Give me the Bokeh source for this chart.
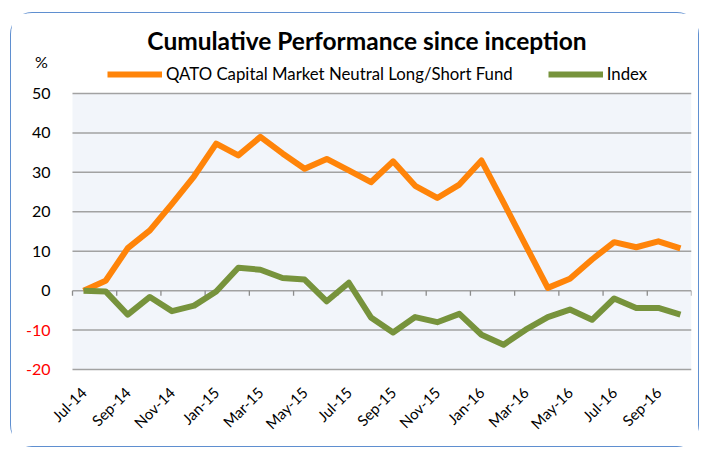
import math
from bokeh.plotting import figure
from bokeh.models import Range1d, FixedTicker, Legend, LegendItem
from bokeh.core.properties import value
from bokeh.embed import file_html
from bokeh.resources import INLINE

# ---------------- data ----------------
months = ["Jul-14", "Aug-14", "Sep-14", "Oct-14", "Nov-14", "Dec-14",
          "Jan-15", "Feb-15", "Mar-15", "Apr-15", "May-15", "Jun-15",
          "Jul-15", "Aug-15", "Sep-15", "Oct-15", "Nov-15", "Dec-15",
          "Jan-16", "Feb-16", "Mar-16", "Apr-16", "May-16", "Jun-16",
          "Jul-16", "Aug-16", "Sep-16", "Oct-16"]
fund = [0.0, 2.5, 10.8, 15.3, 22.0, 29.0, 37.3, 34.3, 39.0, 34.8, 30.9, 33.4,
        30.5, 27.5, 32.8, 26.6, 23.5, 26.9, 33.0, 22.3, 11.5, 0.7, 3.0, 7.9,
        12.3, 11.0, 12.5, 10.7]
index = [0.0, -0.2, -6.1, -1.6, -5.2, -3.8, -0.2, 5.8, 5.3, 3.2, 2.8, -2.7,
         2.0, -6.8, -10.6, -6.7, -8.0, -5.9, -11.2, -13.7, -9.9, -6.7, -4.8,
         -7.4, -2.0, -4.4, -4.4, -6.1]
y_ticks = [-20, -10, 0, 10, 20, 30, 40, 50]
x_tick_labels = months[::2]
series_names = ["QATO Capital Market Neutral Long/Short Fund", "Index"]
title_text = "Cumulative Performance since inception"
unit_text = "%"

# ---------------- layout (page pixels) ----------------
FONT = "Lato"
n = len(months)
W, H = 689, 435
CX, CY = 11, 13                      # canvas origin on the page
PL, PR, PT, PB = 72, 691, 93, 369    # plot area
FL, FT, FB = 21, 20, 381             # frame left / top / bottom
y_lo, y_hi = min(y_ticks), max(y_ticks)
xppu = (PR - PL) / n
yppu = (PB - PT) / (y_hi - y_lo)
x_start = -(PL - FL) / xppu
y_end = y_hi + (PT - FT) / yppu
y_start = y_lo - (FB - PB) / yppu

xs = [i + 0.5 for i in range(n)]

p = figure(width=W, height=H, output_backend="svg", toolbar_location=None,
           x_range=Range1d(x_start, n), y_range=Range1d(y_start, y_end),
           y_axis_location=None, title_location=None,
           min_border_left=FL - CX, min_border_right=CX + W - PR,
           min_border_top=FT - CY, min_border_bottom=CY + H - FB)
p.margin = (CY - 1, 0, 0, CX - 1)
p.styles = {"border": "1.3px solid #5f8fd0", "border-radius": "22px"}
p.background_fill_color = "white"
p.border_fill_color = "white"
p.outline_line_color = None
p.grid.visible = False

# plot area background and horizontal gridlines
p.quad(left=[0], right=[n], bottom=[y_lo], top=[y_hi],
       fill_color="#f2f5fa", line_color=None)
p.segment(x0=[0] * len(y_ticks), x1=[n] * len(y_ticks), y0=y_ticks, y1=y_ticks,
          line_color="#a2a2a2", line_width=1.5)

# category tick marks on the zero line
tk = [float(i) for i in range(0, n + 1, 2)]
p.segment(x0=tk, y0=[0] * len(tk), x1=tk, y1=[-5 / yppu] * len(tk),
          line_color="#8c8c8c", line_width=1.3)

# y tick labels (negative ones in red)
p.text(x=[0] * len(y_ticks), y=y_ticks, text=[str(v) for v in y_ticks],
       x_offset=-22, text_align="right", text_baseline="middle",
       text_color=["red" if v < 0 else "black" for v in y_ticks],
       text_font=value(FONT), text_font_size="16px")
p.text(x=[0], y=[y_hi], text=[unit_text], x_offset=-31, y_offset=-32,
       text_align="center", text_baseline="middle", text_color="black",
       text_font=value(FONT), text_font_size="16px")

# title
p.text(x=[n / 2], y=[y_hi], text=[title_text], x_offset=366.5 - (PL + PR) / 2,
       y_offset=40 - PT, text_align="center", text_baseline="alphabetic",
       text_color="black", text_font=value(FONT), text_font_style="bold",
       text_font_size="24.5px")

# series
r1 = p.line(xs, fund, line_color="#ff8409", line_width=6, line_join="round")
r2 = p.line(xs, index, line_color="#77933c", line_width=6, line_join="round")

legend = Legend(items=[LegendItem(label=series_names[0], renderers=[r1]),
                       LegendItem(label=series_names[1], renderers=[r2])],
                orientation="horizontal", location=(107 - FL, FB - 84),
                border_line_color=None, background_fill_alpha=0,
                glyph_width=55, glyph_height=20, label_height=20,
                label_standoff=4, spacing=35, padding=0, margin=0,
                label_text_font=FONT, label_text_font_size="16.8px",
                label_text_color="black")
p.add_layout(legend)

# x axis
xa = p.xaxis[0]
xa.ticker = FixedTicker(ticks=xs[::2], minor_ticks=[])
xa.major_label_overrides = {xs[i]: months[i] for i in range(0, n, 2)}
xa.axis_line_color = None
xa.major_tick_line_color = None
xa.minor_tick_line_color = None
xa.major_tick_out = 0
xa.major_tick_in = 0
xa.major_label_orientation = math.pi / 4
xa.major_label_standoff = 20 - (FB - PB)
xa.major_label_text_font = FONT
xa.major_label_text_font_size = "15px"
xa.major_label_text_color = "black"

open("out.html", "w").write(file_html(p, INLINE))
